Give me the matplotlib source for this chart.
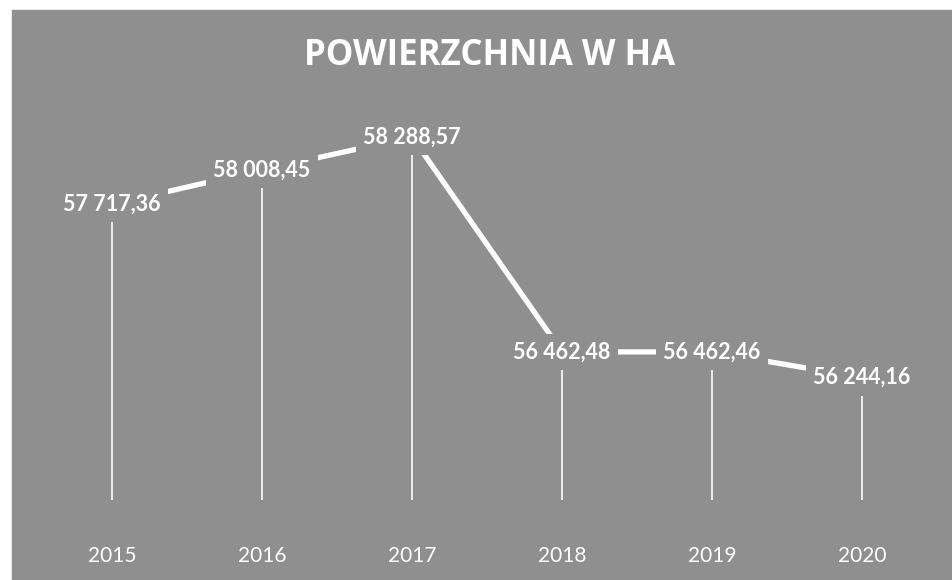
import matplotlib.pyplot as plt
from matplotlib.patches import Rectangle

# data
years = ['2015', '2016', '2017', '2018', '2019', '2020']
area_ha = [57717.36, 58008.45, 58288.57, 56462.48, 56462.46, 56244.16]

bg = '#8f8f8f'


def fmt_pl(v):
    # polish number format: space as thousands separator, comma as decimal
    s = '{:,.2f}'.format(v)
    return s.replace(',', ' ').replace('.', ',')


fig = plt.figure(figsize=(9.52, 5.8), dpi=100, facecolor='white')
# scanned gray plate
fig.patches.append(Rectangle((12 / 952, 0), 1, 1 - 10 / 580,
                             transform=fig.transFigure, color=bg, zorder=-5))

ax = fig.add_axes([37 / 952, 80 / 580, 900 / 952, 410 / 580])
ax.set_facecolor('none')
x = list(range(len(years)))

# drop lines
ax.vlines(x, 55204, area_ha, color='white', lw=1.3, alpha=0.9, zorder=1)
# main line
ax.plot(x, area_ha, color='white', lw=3.8, solid_capstyle='butt', zorder=2)

for xi, v in zip(x, area_ha):
    ax.text(xi, v, fmt_pl(v), ha='center', va='center', color='white',
            fontsize=15.5, fontweight='bold', family='Lato', zorder=3,
            bbox=dict(boxstyle='square,pad=0.35', fc=bg, ec='none'))

ax.set_xlim(-0.5, 5.5)
ax.set_ylim(55204, 58688)
ax.set_xticks(x)
ax.set_xticklabels(years)
ax.tick_params(axis='x', length=0, labelsize=15, labelcolor='white', pad=33)
for lab in ax.get_xticklabels():
    lab.set_family('Lato')
ax.set_yticks([])
for s in ax.spines.values():
    s.set_visible(False)

fig.text(490 / 952, 1 - 56 / 580, 'POWIERZCHNIA W HA', ha='center', va='center',
         color='white', fontsize=25, fontweight='bold', family='Open Sans')

fig.savefig('out.png', dpi=100, facecolor='white')
